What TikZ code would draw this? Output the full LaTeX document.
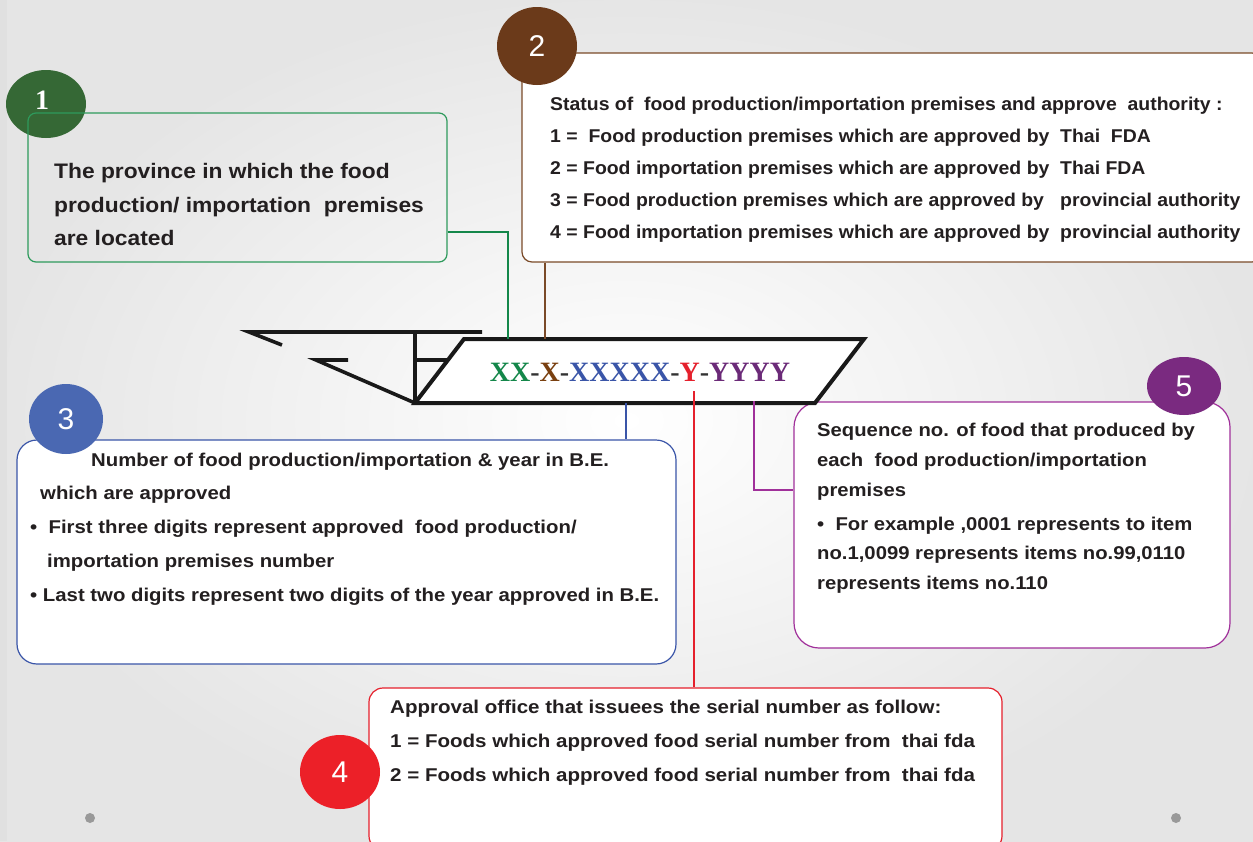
\documentclass[tikz,border=0pt]{standalone}
\usepackage{fontspec}
\setmainfont{Liberation Sans}
\newfontfamily\codefont{Liberation Serif}
% slightly widened sans faces, one per panel
\newfontfamily\wideA[FakeStretch=1.085]{Liberation Sans}
\newfontfamily\wideB[FakeStretch=1.05]{Liberation Sans}
\newfontfamily\wideC[FakeStretch=1.10]{Liberation Sans}
\newfontfamily\wideD[FakeStretch=1.11]{Liberation Sans}
\newfontfamily\wideE[FakeStretch=1.095]{Liberation Sans}
\usetikzlibrary{shapes.geometric}

\definecolor{ink}{HTML}{231F20}
\definecolor{cgreen}{HTML}{2E9A5C}
\definecolor{dgreen}{HTML}{356835}
\definecolor{codegreen}{HTML}{14874A}
\definecolor{cbrown}{HTML}{7A4A28}
\definecolor{dbrown}{HTML}{6B3A1A}
\definecolor{codebrown}{HTML}{7A4010}
\definecolor{cblue}{HTML}{3A55A8}
\definecolor{dblue}{HTML}{4A68B2}
\definecolor{cred}{HTML}{E5202C}
\definecolor{dred}{HTML}{EC2028}
\definecolor{cpurple}{HTML}{A0309A}
\definecolor{dpurple}{HTML}{7A2A80}
\definecolor{codepurple}{HTML}{6B2A78}

\begin{document}
\begin{tikzpicture}[x=1pt,y=-1pt,
  box/.style={draw, line width=1.2pt, rectangle, inner sep=0pt},
  badge/.style={ellipse, inner sep=0pt, text=white, font=\fontsize{30}{30}\selectfont},
  txt/.style={anchor=base west, inner sep=0pt, text=ink},
  txtA/.style={txt, font=\wideA\fontsize{21}{24}\selectfont\bfseries},
  txtB/.style={txt, font=\wideB\fontsize{18.5}{22}\selectfont\bfseries},
  txtC/.style={txt, font=\wideC\fontsize{18.5}{22}\selectfont\bfseries},
  txtD/.style={txt, font=\wideD\fontsize{18.5}{22}\selectfont\bfseries},
  txtE/.style={txt, font=\wideE\fontsize{18.5}{22}\selectfont\bfseries},
  plate/.style={line width=4pt, line join=miter, black!90},
  link/.style={line width=1.3pt}]

\useasboundingbox (0,0) rectangle (1253,841);
\clip (0,0) rectangle (1253,841);

% backdrop
\shade[inner color=white, outer color=black!10] (0,0) rectangle (1253,841);
\fill[black!12] (0,0) rectangle (7,841);
\fill[black!40] (90,818) circle[radius=5pt];
\fill[black!40] (1176,818) circle[radius=5pt];

% box 1: province
\node[badge, fill=dgreen, minimum width=80pt, minimum height=68pt] (c1) at (46,104) {};
\node[text=white, font=\codefont\bfseries\fontsize{28}{28}\selectfont] (n1) at (42,100) {1};
\node[box, draw=cgreen, rounded corners=8pt, minimum width=419pt, minimum height=149pt] (b1) at (237.5,187.5) {};
\node[txtA] (t1a) at (54,178) {The province in which the food};
\node[txtA] (t1b) at (54,212) {production/ importation\ \ premises};
\node[txtA] (t1c) at (54,245) {are located};

% box 2: premises status
\node[box, draw=cbrown, fill=white, rounded corners=10pt, minimum width=740pt, minimum height=209pt] (b2) at (892,157.5) {};
\node[badge, fill=dbrown, minimum width=80pt, minimum height=78pt] (c2) at (537,46) {2};
\node[txtB] (t2a) at (550,110) {Status of\ \ food production/importation premises and approve\ \ authority :};
\node[txtB] (t2b) at (550,142) {1 =\ \ Food production premises which are approved by\ \ Thai\ \ FDA};
\node[txtB] (t2c) at (550,174) {2 = Food importation premises which are approved by\ \ Thai FDA};
\node[txtB] (t2d) at (550,206) {3 = Food production premises which are approved by\ \ \ provincial authority};
\node[txtB] (t2e) at (550,238) {4 = Food importation premises which are approved by\ \ provincial authority};

% box 3: number and year
\node[box, draw=cblue, fill=white, rounded corners=20pt, minimum width=659pt, minimum height=224pt] (b3) at (346.5,552) {};
\node[badge, fill=dblue, minimum width=74pt, minimum height=70pt] (c3) at (66,419) {3};
\node[txtC] (t3a) at (91,466) {Number of food production/importation \& year in B.E.};
\node[txtC] (t3b) at (40,499) {which are approved};
\node[txtC] (t3c) at (30,533) {\textbullet\ \ First three digits represent approved\ \ food production/};
\node[txtC] (t3d) at (47,567) {importation premises number};
\node[txtC] (t3e) at (30,601) {\textbullet\ Last two digits represent two digits of the year approved in B.E.};

% box 4: approval office
\node[box, draw=cred, fill=white, rounded corners=14pt, minimum width=633pt, minimum height=162pt] (b4) at (685.5,769) {};
\node[badge, fill=dred, minimum width=80pt, minimum height=74pt] (c4) at (340,772) {4};
\node[txtD] (t4a) at (390,713) {Approval office that issuees the serial number as follow:};
\node[txtD] (t4b) at (390,747) {1 = Foods which approved food serial number from\ \ thai fda};
\node[txtD] (t4c) at (390,781) {2 = Foods which approved food serial number from\ \ thai fda};

% box 5: sequence number
\node[box, draw=cpurple, fill=white, rounded corners=25pt, minimum width=436pt, minimum height=246pt] (b5) at (1012,525) {};
\node[badge, fill=dpurple, minimum width=74pt, minimum height=58pt] (c5) at (1184,386) {5};
\node[txtE] (t5a) at (817,436) {Sequence no. of food that produced by};
\node[txtE] (t5b) at (817,466) {each\ \ food production/importation};
\node[txtE] (t5c) at (817,496) {premises};
\node[txtE] (t5d) at (817,530) {\textbullet\ \ For example ,0001 represents to item};
\node[txtE] (t5e) at (817,559) {no.1,0099 represents items no.99,0110};
\node[txtE] (t5f) at (817,589) {represents items no.110};

% the serial-number plate
\coordinate (pTL) at (464,339);
\coordinate (pTR) at (864,339);
\coordinate (pBR) at (815,403);
\coordinate (pBL) at (415,403);
\fill[white] (pTL) -- (pTR) -- (pBR) -- (pBL) -- cycle;
\draw[plate] (pTL) -- (pTR) -- (pBR) -- (pBL) -- cycle;
\coordinate (f1) at (249,332);
\coordinate (f2) at (482,332);
\coordinate (f3) at (282,345);
\coordinate (f4) at (415,332);
\coordinate (f5) at (448,360);
\coordinate (f6) at (316,360);
\coordinate (f7) at (348,360);
\draw[plate, line width=3.6pt] (f2) -- (f1) -- (f3);
\draw[plate, line width=3.6pt] (f4) -- (pBL);
\draw[plate, line width=3.6pt] (f4 |- f5) -- (f5);
\draw[plate, line width=3.6pt] (f7) -- (f6) -- (pBL);
\node[font=\codefont\bfseries\fontsize{28}{30}\selectfont, inner sep=0pt] (code) at (640,372)
  {\textcolor{codegreen}{XX}\textcolor{black!80}{-}\textcolor{codebrown}{X}\textcolor{black!80}{-}\textcolor{cblue}{XXXXX}\textcolor{black!80}{-}\textcolor{cred}{Y}\textcolor{black!80}{-}\textcolor{codepurple}{YYYY}};

% connectors from the plate to the boxes
\coordinate (y1) at (0,232);
\coordinate (k1) at (508,339);
\draw[link, draw=codegreen] (b1.east |- y1) -| (k1);
\coordinate (k2) at (545,339);
\draw[link, draw=cbrown] (k2 |- b2.south) -- (k2);
\coordinate (k3) at (626,403);
\draw[link, draw=cblue] (k3) -- (k3 |- b3.north);
\coordinate (k4) at (694,391);
\draw[link, draw=cred] (k4) -- (k4 |- b4.north);
\coordinate (k5) at (754,401);
\coordinate (y5) at (0,490);
\draw[link, draw=cpurple] (k5) |- (b5.west |- y5);
\end{tikzpicture}
\end{document}
